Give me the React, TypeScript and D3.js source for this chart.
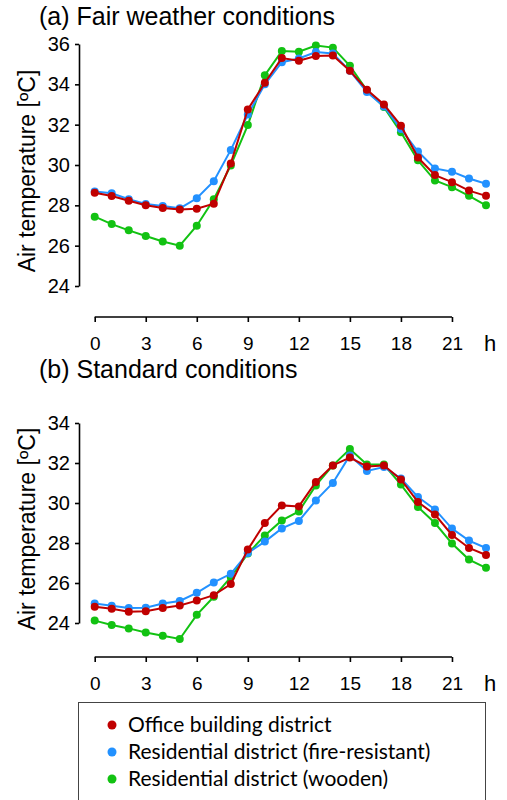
import { useEffect, useRef } from 'react';
import * as d3 from 'd3';

// hours of the day
const hours = [0, 1, 2, 3, 4, 5, 6, 7, 8, 9, 10, 11, 12, 13, 14, 15, 16, 17, 18, 19, 20, 21, 22, 23];
const hourTicks = [0, 3, 6, 9, 12, 15, 18, 21];

// (a) fair weather
const fairOffice = [28.62, 28.46, 28.23, 28.0, 27.87, 27.79, 27.83, 28.08, 30.08, 32.75, 34.08, 35.3, 35.17, 35.4, 35.43, 34.67, 33.73, 33.0, 31.95, 30.37, 29.5, 29.15, 28.73, 28.47];
const fairFire = [28.68, 28.6, 28.3, 28.07, 27.97, 27.85, 28.35, 29.2, 30.75, 32.5, 34.0, 35.1, 35.28, 35.6, 35.53, 34.67, 33.62, 32.9, 31.78, 30.67, 29.83, 29.67, 29.33, 29.07];
const fairWood = [27.44, 27.07, 26.76, 26.48, 26.21, 26.0, 26.99, 28.3, 29.98, 31.98, 34.45, 35.65, 35.62, 35.92, 35.82, 34.92, 33.7, 32.87, 31.62, 30.23, 29.23, 28.9, 28.47, 28.0];
const fairTicks = [24, 26, 28, 30, 32, 34, 36];

// (b) standard
const stdOffice = [24.81, 24.71, 24.56, 24.59, 24.75, 24.88, 25.12, 25.39, 25.95, 27.67, 29.0, 29.88, 29.83, 31.05, 31.88, 32.27, 31.83, 31.88, 31.18, 30.05, 29.42, 28.4, 27.75, 27.4];
const stdFire = [24.97, 24.86, 24.75, 24.76, 24.97, 25.1, 25.51, 26.03, 26.46, 27.5, 28.07, 28.73, 29.1, 30.13, 31.0, 32.38, 31.6, 31.8, 31.22, 30.3, 29.68, 28.72, 28.12, 27.75];
const stdWood = [24.12, 23.9, 23.73, 23.53, 23.36, 23.2, 24.41, 25.31, 26.29, 27.47, 28.38, 29.13, 29.58, 30.88, 31.88, 32.7, 31.92, 31.92, 30.92, 29.8, 29.0, 27.97, 27.17, 26.76];
const stdTicks = [24, 26, 28, 30, 32, 34];

const seriesNames = ['Office building district', 'Residential district (fire-resistant)', 'Residential district (wooden)'];
const colors = ['#C00000', '#2291FF', '#12C212'];

const FONT = '"Liberation Sans", Arial, sans-serif';

function Panel({ title, titleY, yMin, yMax, yTop, yBottom, axisY, yTicks, series }) {
  const gRef = useRef(null);

  useEffect(() => {
    const g = d3.select(gRef.current);
    g.selectAll('*').remove();

    const x = d3.scaleLinear().domain([0, 23]).range([94.7, 486]);
    const y = d3.scaleLinear().domain([yMin, yMax]).range([yBottom, yTop]);

    // y axis
    const ya = g.append('g')
      .attr('transform', 'translate(79,0)')
      .call(d3.axisLeft(y).tickValues(yTicks).tickSize(4).tickSizeOuter(0).tickPadding(5));
    ya.select('.domain').attr('stroke', '#000').attr('stroke-width', 1.6);
    ya.selectAll('.tick line').attr('stroke', '#000').attr('stroke-width', 1.6);
    ya.selectAll('text').attr('font-family', FONT).attr('font-size', 20).attr('fill', '#000');

    // x axis (line only spans 0..21)
    const xa = g.append('g')
      .attr('transform', `translate(0,${axisY})`)
      .call(d3.axisBottom(x).tickValues(hourTicks).tickSize(5).tickPadding(15));
    xa.select('.domain').remove();
    xa.append('line')
      .attr('x1', x(0)).attr('x2', x(21))
      .attr('stroke', '#000').attr('stroke-width', 1.6);
    xa.selectAll('.tick line').attr('stroke', '#000').attr('stroke-width', 1.6);
    xa.selectAll('text').attr('font-family', FONT).attr('font-size', 19).attr('fill', '#000');
    xa.append('text')
      .attr('x', 490)
      .attr('y', 34)
      .attr('font-family', FONT).attr('font-size', 22).attr('fill', '#000')
      .attr('text-anchor', 'middle')
      .text('h');

    const line = d3.line().x((d, i) => x(hours[i])).y(d => y(d));

    // draw green, blue, red so red ends on top
    [2, 1, 0].forEach(k => {
      const vals = series[k];
      g.append('path')
        .datum(vals)
        .attr('d', line)
        .attr('fill', 'none')
        .attr('stroke', colors[k])
        .attr('stroke-width', 2);
      g.selectAll(null)
        .data(vals)
        .enter()
        .append('circle')
        .attr('cx', (d, i) => x(hours[i]))
        .attr('cy', d => y(d))
        .attr('r', 4)
        .attr('fill', colors[k]);
    });

    // titles
    g.append('text')
      .attr('x', 39).attr('y', titleY)
      .attr('font-family', FONT).attr('font-size', 25)
      .text(title);

    g.append('text')
      .attr('transform', `translate(35,${(yTop + yBottom) / 2 + 6}) rotate(-90)`)
      .attr('text-anchor', 'middle')
      .attr('font-family', FONT).attr('font-size', 23)
      .text('Air temperature [ºC]');
  }, [title, titleY, yMin, yMax, yTop, yBottom, axisY, yTicks, series]);

  return <g ref={gRef} />;
}

function Legend() {
  const ref = useRef(null);
  useEffect(() => {
    const g = d3.select(ref.current);
    g.selectAll('*').remove();
    g.append('rect')
      .attr('x', 78.5).attr('y', 702.5).attr('width', 407).attr('height', 140)
      .attr('fill', 'none').attr('stroke', '#444').attr('stroke-width', 1);
    const rows = g.selectAll('g.row').data(seriesNames).enter().append('g')
      .attr('class', 'row')
      .attr('transform', (d, i) => `translate(0,${725 + i * 27})`);
    rows.append('circle').attr('cx', 112).attr('cy', 0).attr('r', 4.5).attr('fill', (d, i) => colors[i]);
    rows.append('text')
      .attr('x', 128).attr('y', 7)
      .attr('font-family', 'Lato, "Open Sans", sans-serif').attr('font-size', 21)
      .attr('fill', '#000')
      .text(d => d);
  }, []);
  return <g ref={ref} />;
}

export default function App() {
  return (
    <svg width={507} height={800} style={{ position: 'absolute', left: 0, top: 0, background: '#fff' }}>
      <Panel
        title="(a) Fair weather conditions"
        titleY={25}
        yMin={24} yMax={36} yTop={44} yBottom={286}
        axisY={317}
        yTicks={fairTicks}
        series={[fairOffice, fairFire, fairWood]}
      />
      <Panel
        title="(b) Standard conditions"
        titleY={378}
        yMin={24} yMax={34} yTop={423} yBottom={623}
        axisY={657}
        yTicks={stdTicks}
        series={[stdOffice, stdFire, stdWood]}
      />
      <Legend />
    </svg>
  );
}
